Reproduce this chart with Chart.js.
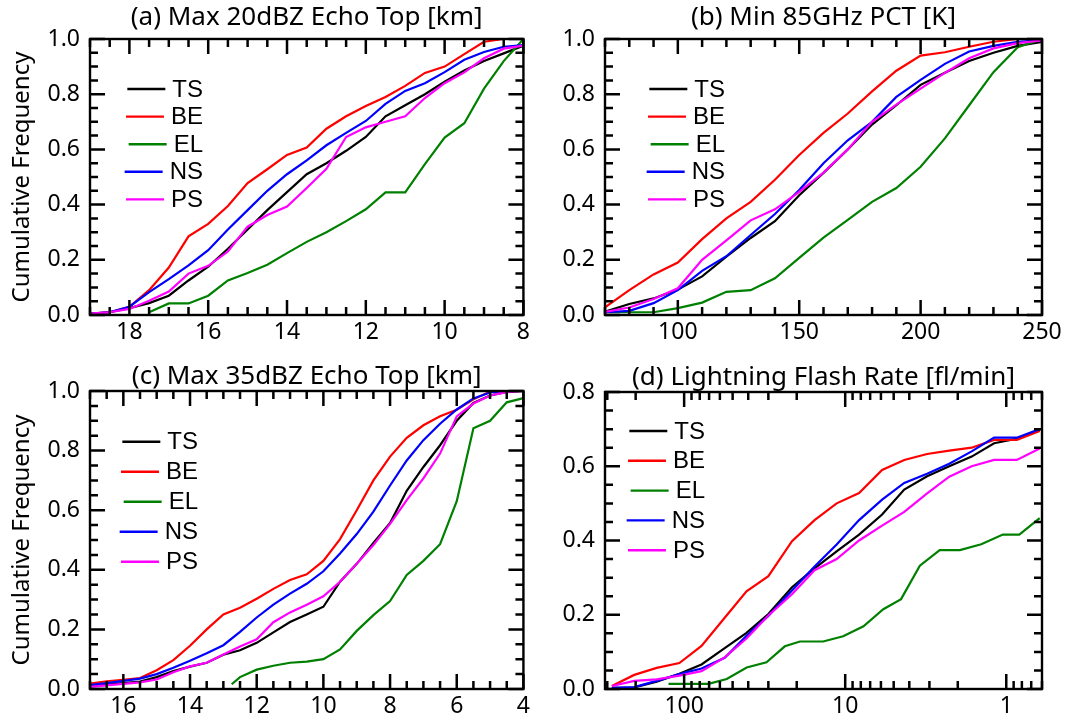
<!DOCTYPE html>
<html><head><meta charset="utf-8">
<script src="https://cdn.jsdelivr.net/npm/chart.js@4.4.1/dist/chart.umd.min.js"></script>
<style>
html,body{margin:0;padding:0;background:#fff;}
#wrap{position:relative;width:1068px;height:722px;overflow:hidden;background:#fff;}
canvas{position:absolute;}
</style></head><body>
<div id="wrap">
<canvas id="ca" width="534" height="361" style="left:0;top:0"></canvas>
<canvas id="cb" width="534" height="361" style="left:534px;top:0"></canvas>
<canvas id="cc" width="534" height="361" style="left:0;top:361px"></canvas>
<canvas id="cd" width="534" height="361" style="left:534px;top:361px"></canvas>
</div>
<script>
// ---- series names / colours ----
const seriesNames = ['TS','BE','EL','NS','PS'];
const seriesColors = ['#000000','#ff0000','#008000','#0000ff','#ff00ff'];

// ---- (a) Max 20dBZ Echo Top [km] ----
const echo20Km = [19,18.5,18,17.5,17,16.5,16,15.5,15,14.5,14,13.5,13,12.5,12,11.5,11,10.5,10,9.5,9,8.5,8];
const echo20TS = [0.005,0.01,0.025,0.043,0.07,0.125,0.175,0.24,0.31,0.38,0.445,0.51,0.55,0.595,0.645,0.72,0.76,0.80,0.845,0.886,0.92,0.948,0.976];
const echo20BE = [0.005,0.01,0.03,0.09,0.172,0.285,0.33,0.395,0.478,0.528,0.58,0.607,0.675,0.72,0.757,0.79,0.83,0.877,0.90,0.945,0.99,1.0,1.0];
const echo20EL = [null,null,null,0.01,0.042,0.042,0.07,0.125,0.152,0.182,0.224,0.265,0.30,0.34,0.383,0.444,0.444,0.547,0.643,0.695,0.82,0.92,1.0];
const echo20NS = [0.005,0.01,0.03,0.083,0.13,0.18,0.235,0.31,0.38,0.45,0.51,0.56,0.615,0.66,0.703,0.765,0.812,0.84,0.88,0.925,0.953,0.972,0.978];
const echo20PS = [0.005,0.01,0.022,0.052,0.085,0.15,0.178,0.23,0.32,0.362,0.393,0.46,0.53,0.645,0.68,0.70,0.72,0.786,0.84,0.879,0.93,0.965,0.976];
const echo20Ticks = [18,16,14,12,10,8];

// ---- (b) Min 85GHz PCT [K] ----
const pctK = [70,80,90,100,110,120,130,140,150,160,170,180,190,200,210,220,230,240,250];
const pctTS = [0.012,0.04,0.06,0.092,0.14,0.211,0.279,0.34,0.434,0.515,0.60,0.69,0.76,0.834,0.878,0.92,0.95,0.975,0.99];
const pctBE = [0.028,0.09,0.147,0.19,0.275,0.35,0.41,0.49,0.58,0.66,0.73,0.81,0.885,0.94,0.952,0.972,0.99,1.0,1.0];
const pctEL = [0.01,0.01,0.01,0.025,0.045,0.084,0.09,0.133,0.207,0.28,0.345,0.41,0.46,0.537,0.64,0.76,0.88,0.97,1.0];
const pctNS = [0.01,0.015,0.043,0.09,0.16,0.213,0.29,0.366,0.453,0.55,0.633,0.70,0.79,0.852,0.91,0.955,0.975,0.99,0.996];
const pctPS = [0.011,0.027,0.058,0.097,0.2,0.27,0.343,0.383,0.446,0.516,0.60,0.70,0.762,0.82,0.877,0.93,0.966,0.985,0.995];
const pctTicks = [100,150,200,250];

// ---- (c) Max 35dBZ Echo Top [km] ----
const echo35Km = [17,16.5,16,15.5,15,14.5,14,13.5,13,12.5,12,11.5,11,10.5,10,9.5,9,8.5,8,7.5,7,6.5,6,5.5,5,4.5,4];
const echo35TS = [0.01,0.015,0.02,0.025,0.04,0.06,0.075,0.088,0.115,0.13,0.155,0.19,0.225,0.25,0.276,0.36,0.42,0.49,0.557,0.665,0.745,0.818,0.90,0.96,0.985,0.997,1.0];
const echo35BE = [0.018,0.026,0.031,0.037,0.063,0.097,0.145,0.20,0.25,0.273,0.303,0.336,0.366,0.385,0.43,0.503,0.60,0.70,0.78,0.843,0.885,0.915,0.937,0.972,0.998,1.0,1.0];
const echo35ELKm = [12.75,12.5,12,11.5,11,10.5,10,9.5,9,8.5,8,7.5,7,6.5,6,5.5,5,4.5,4];
const echo35EL = [0.016,0.04,0.065,0.078,0.088,0.092,0.10,0.133,0.195,0.248,0.295,0.383,0.43,0.486,0.63,0.875,0.90,0.962,0.976];
const echo35NS = [0.013,0.02,0.027,0.035,0.05,0.071,0.095,0.12,0.147,0.192,0.24,0.283,0.32,0.353,0.395,0.455,0.52,0.595,0.683,0.767,0.835,0.89,0.938,0.975,0.995,1.0,1.0];
const echo35PS = [0.007,0.012,0.017,0.022,0.032,0.056,0.076,0.088,0.116,0.143,0.167,0.224,0.257,0.283,0.311,0.36,0.42,0.483,0.554,0.634,0.707,0.79,0.915,0.958,0.985,0.996,1.0];
const echo35Ticks = [16,14,12,10,8,6,4];

// ---- (d) Lightning Flash Rate [fl/min] ----
const flashRate = [281,204,148,107,78,56,41,30,21.4,15.5,11.3,8.2,5.9,4.3,3.1,2.26,1.64,1.19,0.86,0.62];
const flashTS = [0.003,0.004,0.02,0.041,0.066,0.11,0.151,0.202,0.274,0.325,0.371,0.416,0.47,0.537,0.573,0.60,0.626,0.662,0.674,0.698];
const flashBE = [0.008,0.038,0.057,0.07,0.116,0.192,0.263,0.304,0.398,0.455,0.50,0.528,0.59,0.617,0.633,0.642,0.65,0.671,0.671,0.695];
const flashELRate = [125,70.6,54.4,40.9,30.8,23.7,19.1,13.7,10.3,7.7,5.8,4.5,3.44,2.59,1.94,1.43,1.05,0.83,0.62];
const flashEL = [0.014,0.014,0.027,0.058,0.072,0.115,0.128,0.128,0.142,0.169,0.215,0.242,0.332,0.374,0.374,0.39,0.416,0.416,0.46];
const flashNS = [0.003,0.005,0.022,0.04,0.055,0.084,0.143,0.197,0.265,0.33,0.389,0.455,0.51,0.555,0.58,0.607,0.64,0.677,0.677,0.70];
const flashPS = [0.008,0.022,0.026,0.036,0.048,0.085,0.136,0.198,0.255,0.32,0.35,0.40,0.44,0.477,0.527,0.572,0.60,0.617,0.617,0.648];
const flashTicks = [100,10,1];

const freqTicks10 = [0,0.2,0.4,0.6,0.8,1.0];
const freqTicks08 = [0,0.2,0.4,0.6,0.8];

const FONT = '"Noto Sans", "Open Sans", sans-serif';
const LEGFONT = '24px "Liberation Sans", Arial, sans-serif';

function pts(xs, ys){ return xs.map((x,i)=>({x:x, y:ys[i]})).filter(p=>p.y!==null); }
function stepVals(a,b,s){ const r=[]; for(let v=a; v<=b+1e-9; v+=s) r.push(Math.round(v*1000)/1000); return r; }
function logMinor(lo,hi){ const r=[]; for(let e=-1;e<=3;e++){ for(let m=2;m<=9;m++){ const v=m*Math.pow(10,e); if(v>=lo&&v<=hi) r.push(v);} } return r; }

const framePlugin = {
  id:'frame',
  afterDatasetsDraw(chart, args, o){
    const ctx = chart.ctx, a = chart.chartArea, xs = chart.scales.x, ys = chart.scales.y;
    ctx.save();
    ctx.strokeStyle = '#000'; ctx.lineWidth = 2.5; ctx.lineCap = 'butt';
    ctx.beginPath();
    const vt = (v,len)=>{ const p = xs.getPixelForValue(v); ctx.moveTo(p,a.bottom); ctx.lineTo(p,a.bottom-len); ctx.moveTo(p,a.top); ctx.lineTo(p,a.top+len); };
    const ht = (v,len)=>{ const p = ys.getPixelForValue(v); ctx.moveTo(a.left,p); ctx.lineTo(a.left+len,p); ctx.moveTo(a.right,p); ctx.lineTo(a.right-len,p); };
    o.xMajor.forEach(v=>vt(v,15)); o.xMinor.forEach(v=>vt(v,8));
    o.yMajor.forEach(v=>ht(v,15)); o.yMinor.forEach(v=>ht(v,8));
    ctx.stroke();
    ctx.lineWidth = 2.4;
    ctx.strokeRect(a.left, a.top, a.right-a.left, a.bottom-a.top);
    ctx.font = LEGFONT; ctx.textBaseline = 'middle'; ctx.textAlign = 'left';
    chart.data.datasets.forEach((ds,i)=>{
      const yy = a.top + o.legTop + i*o.legGap;
      const w = ctx.measureText(ds.label).width;
      const tx = a.left + o.legRight - w;
      ctx.strokeStyle = ds.borderColor; ctx.lineWidth = 2.4;
      ctx.beginPath(); ctx.moveTo(tx-7-38, yy); ctx.lineTo(tx-7, yy); ctx.stroke();
      ctx.fillStyle = '#000'; ctx.fillText(ds.label, tx, yy+1);
    });
    ctx.restore();
  }
};

function build(id, o){
  const datasets = o.series.map((s,i)=>({
    label: seriesNames[i], data: pts(s[0], s[1]), borderColor: seriesColors[i],
    backgroundColor: seriesColors[i], borderWidth: 2.2, pointRadius: 0, tension: 0,
    fill: false, order: 4-i, spanGaps: false
  }));
  const yScale = {
    type:'linear', min:0, max:o.yMax,
    afterBuildTicks: s=>{ s.ticks = o.yTicks.map(v=>({value:v})); },
    afterFit: s=>{ s.width = o.yW; },
    grid:{display:false, drawTicks:false}, border:{display:false},
    ticks:{font:{family:FONT,size:23}, color:'#000', padding:10, callback:v=>Number(v).toFixed(1)}
  };
  if (o.yTitle) yScale.title = {display:true, text:o.yTitle, color:'#000', font:{family:FONT,size:24,lineHeight:1}, padding:{top:10,bottom:0}};
  return new Chart(document.getElementById(id), {
    type:'line',
    data:{datasets},
    options:{
      responsive:false, animation:false, devicePixelRatio:1,
      layout:{padding:{left:0,right:o.padR,top:0,bottom:0}},
      plugins:{
        legend:{display:false}, tooltip:{enabled:false},
        title:{display:true, fullSize:false, text:o.title, color:'#000', font:{family:FONT,size:26,weight:'normal',lineHeight:1}, padding:{top:o.tPad[0],bottom:o.tPad[1]}},
        frame:{xMajor:o.xTicks, xMinor:o.xMinor, yMajor:o.yTicks, yMinor:o.yMinor, legTop:o.leg[0], legGap:o.leg[1], legRight:o.leg[2]}
      },
      scales:{
        x:{
          type:o.xType, min:o.xMin, max:o.xMax, reverse:o.rev,
          afterBuildTicks: s=>{ s.ticks = o.xTicks.map(v=>({value:v})); },
          afterFit: s=>{ s.height = o.xH; },
          grid:{display:false, drawTicks:false}, border:{display:false},
          ticks:{font:{family:FONT,size:23}, color:'#000', padding:4, maxRotation:0, autoSkip:false, callback:v=>String(v)}
        },
        y: yScale
      }
    },
    plugins:[framePlugin]
  });
}

build('ca', {
  title:'(a) Max 20dBZ Echo Top [km]', yTitle:'Cumulative Frequency',
  series:[[echo20Km,echo20TS],[echo20Km,echo20BE],[echo20Km,echo20EL],[echo20Km,echo20NS],[echo20Km,echo20PS]],
  xType:'linear', xMin:8, xMax:19, rev:true, xTicks:echo20Ticks, xMinor:stepVals(8,19,0.5),
  yMax:1, yTicks:freqTicks10, yMinor:stepVals(0,1,0.05),
  padR:7, xH:46, yW:90, tPad:[5,8], leg:[50,27.6,113]
});
build('cb', {
  title:'(b) Min 85GHz PCT [K]', yTitle:null,
  series:[[pctK,pctTS],[pctK,pctBE],[pctK,pctEL],[pctK,pctNS],[pctK,pctPS]],
  xType:'linear', xMin:70, xMax:250, rev:false, xTicks:pctTicks, xMinor:stepVals(70,250,10),
  yMax:1, yTicks:freqTicks10, yMinor:stepVals(0,1,0.05),
  padR:26, xH:46, yW:71, tPad:[5,8], leg:[50,27.6,120]
});
build('cc', {
  title:'(c) Max 35dBZ Echo Top [km]', yTitle:'Cumulative Frequency',
  series:[[echo35Km,echo35TS],[echo35Km,echo35BE],[echo35ELKm,echo35EL],[echo35Km,echo35NS],[echo35Km,echo35PS]],
  xType:'linear', xMin:4, xMax:17, rev:true, xTicks:echo35Ticks, xMinor:stepVals(4,17,0.5),
  yMax:1, yTicks:freqTicks10, yMinor:stepVals(0,1,0.05),
  padR:7, xH:33, yW:90, tPad:[3,1], leg:[50.7,30,108]
});
build('cd', {
  title:'(d) Lightning Flash Rate [fl/min]', yTitle:null,
  series:[[flashRate,flashTS],[flashRate,flashBE],[flashELRate,flashEL],[flashRate,flashNS],[flashRate,flashPS]],
  xType:'logarithmic', xMin:0.6, xMax:310, rev:true, xTicks:flashTicks, xMinor:logMinor(0.6,310),
  yMax:0.8, yTicks:freqTicks08, yMinor:stepVals(0,0.8,0.05),
  padR:26, xH:33, yW:71, tPad:[4,1], leg:[39,29.8,100]
});
</script>
</body></html>
